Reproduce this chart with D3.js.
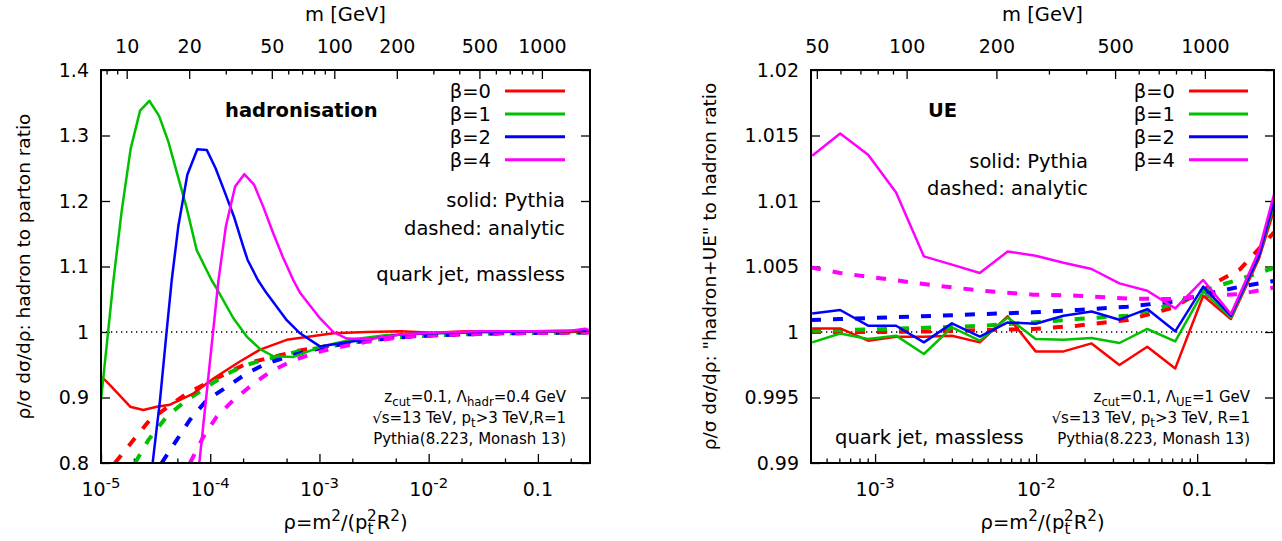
<!DOCTYPE html>
<html>
<head>
<meta charset="utf-8">
<script src="https://cdn.jsdelivr.net/npm/d3@7"></script>
<style>
  body { margin: 0; background: #fff; }
  svg text { font-family: "DejaVu Sans", sans-serif; fill: #000; }
</style>
</head>
<body>
<div id="chart"></div>
<script>
const width = 1282, height = 541;

// ---- hadronisation panel (left): [rho, ratio] ----
const hadPythiaB0 = [[1.01e-5,0.932],[1.21e-5,0.919],[1.85e-5,0.886],[2.44e-5,0.881],[3.24e-5,0.886],[4.28e-5,0.889],
  [7.0e-5,0.906],[1.07e-4,0.929],[1.87e-4,0.955],[2.86e-4,0.973],[5.02e-4,0.988],[8.2e-4,0.993],[1.34e-3,0.998],
  [2.71e-3,1.0],[5.5e-3,1.001],[1.1e-2,0.999],[2.2e-2,1.001],[4.5e-2,1.0],[0.1,1.001],[0.2,1.0],[0.3,1.002]];
const hadPythiaB1 = [[1.0e-5,0.896],[1.30e-5,1.079],[1.55e-5,1.186],[1.87e-5,1.280],[2.28e-5,1.338],[2.77e-5,1.353],
  [3.40e-5,1.330],[4.13e-5,1.291],[6.09e-5,1.189],[7.52e-5,1.125],[1.03e-4,1.079],[1.15e-4,1.066],[1.63e-4,1.021],
  [2.16e-4,0.993],[2.86e-4,0.974],[3.79e-4,0.963],[5.77e-4,0.962],[1.01e-3,0.977],[1.9e-3,0.988],[4.0e-3,0.995],
  [1.0e-2,0.998],[3e-2,1.0],[0.1,1.001],[0.3,1.002]];
const hadPythiaB2 = [[2.97e-5,0.800],[3.47e-5,0.896],[4.0e-5,1.003],[4.44e-5,1.079],[5.10e-5,1.161],[6.17e-5,1.240],
  [7.62e-5,1.279],[9.29e-5,1.278],[1.12e-4,1.250],[1.37e-4,1.212],[1.65e-4,1.176],[2.01e-4,1.130],[2.20e-4,1.110],
  [2.74e-4,1.079],[3.29e-4,1.059],[5.02e-4,1.018],[6.64e-4,0.998],[1.01e-3,0.978],[1.91e-3,0.985],[5.47e-3,0.996],
  [1.1e-2,0.998],[3e-2,1.0],[0.1,1.001],[0.3,1.002]];
const hadPythiaB4 = [[7.95e-5,0.800],[1.19e-4,1.079],[1.39e-4,1.161],[1.69e-4,1.222],[2.05e-4,1.241],[2.52e-4,1.225],
  [3.06e-4,1.191],[3.79e-4,1.150],[4.61e-4,1.115],[5.77e-4,1.079],[6.64e-4,1.060],[1.01e-3,1.021],[1.34e-3,1.0],
  [1.78e-3,0.990],[2.71e-3,0.989],[5.47e-3,0.996],[1.1e-2,0.999],[3e-2,1.001],[0.1,1.001],[0.2,1.002],[0.27,1.005],[0.3,1.002]];
const hadAnalyticB0 = [[1.34e-5,0.800],[1.98e-5,0.835],[2.81e-5,0.866],[4.13e-5,0.886],[6.09e-5,0.906],[9.29e-5,0.922],
  [1.42e-4,0.937],[2.16e-4,0.952],[3.79e-4,0.962],[6.64e-4,0.972],[1.34e-3,0.980],[2.71e-3,0.988],[5.47e-3,0.993],
  [1.1e-2,0.995],[4.5e-2,0.998],[0.17,0.999],[0.3,0.9995]];
const hadAnalyticB1 = [[2.05e-5,0.800],[2.71e-5,0.835],[4.0e-5,0.871],[6.09e-5,0.896],[9.29e-5,0.916],[1.42e-4,0.936],
  [2.16e-4,0.950],[3.79e-4,0.961],[6.64e-4,0.971],[1.34e-3,0.979],[2.71e-3,0.987],[5.47e-3,0.992],[1.1e-2,0.995],
  [4.5e-2,0.998],[0.17,0.999],[0.3,0.9995]];
const hadAnalyticB2 = [[3.59e-5,0.800],[4.93e-5,0.835],[6.53e-5,0.866],[9.29e-5,0.896],[1.42e-4,0.916],[2.16e-4,0.937],
  [3.29e-4,0.952],[5.77e-4,0.965],[1.01e-3,0.975],[1.91e-3,0.984],[5.47e-3,0.992],[1.1e-2,0.995],[4.5e-2,0.998],
  [0.17,0.999],[0.3,0.9995]];
const hadAnalyticB4 = [[6.53e-5,0.800],[8.65e-5,0.840],[1.15e-4,0.871],[1.63e-4,0.896],[2.40e-4,0.919],[3.53e-4,0.939],
  [5.77e-4,0.957],[1.01e-3,0.970],[1.34e-3,0.975],[2.71e-3,0.985],[5.47e-3,0.992],[1.1e-2,0.995],[4.5e-2,0.998],
  [0.17,0.999],[0.3,0.9995]];

// ---- UE panel (right) ----
const ueRho = [4.07e-4,6.07e-4,9.05e-4,1.35e-3,2.01e-3,3.0e-3,4.47e-3,6.66e-3,9.93e-3,1.48e-2,2.21e-2,3.29e-2,
  4.9e-2,7.31e-2,0.109,0.162,0.242,0.3];
const uePythiaB0 = [1.00027,1.00027,0.99934,0.99964,0.99964,0.99972,0.99921,1.0012,0.99852,0.99852,0.99913,0.99748,
  0.99888,0.99722,1.00277,1.00099,1.0056,1.0093];
const uePythiaB1 = [0.99921,0.99989,0.99947,0.99972,0.99832,1.00035,0.99934,1.00111,0.99947,0.99941,0.99954,0.99916,
  1.00023,0.99928,1.0031,1.00111,1.0058,1.0097];
const uePythiaB2 = [1.00142,1.00168,1.00048,1.00048,0.99921,1.00066,0.99964,1.00073,1.00063,1.00124,1.00157,1.00094,
  1.00175,1.00005,1.00346,1.00124,1.0058,1.0100];
const uePythiaB4 = [1.01345,1.01515,1.01353,1.01065,1.00577,1.00514,1.0045,1.00615,1.00582,1.00529,1.00481,1.00371,
  1.00315,1.0018,1.00397,1.00137,1.0062,1.0105];
const ueRhoAnalytic = [4.0e-4,6.07e-4,1.18e-3,2.41e-3,4.69e-3,9.56e-3,1.8e-2,3.7e-2,7.2e-2,0.125,0.185,0.3];
const ueAnalyticB0 = [1.0,1.0,1.0,1.00005,1.00015,1.00023,1.00048,1.00092,1.00188,1.00366,1.0048,1.0076];
const ueAnalyticB1 = [1.0001,1.00015,1.00023,1.00035,1.00048,1.00073,1.00099,1.00124,1.00214,1.0034,1.00404,1.0049];
const ueAnalyticB2 = [1.00092,1.00099,1.00111,1.00124,1.00137,1.0015,1.00168,1.00193,1.00233,1.00302,1.00346,1.0039];
const ueAnalyticB4 = [1.00493,1.0045,1.00404,1.00353,1.00315,1.00285,1.00277,1.00255,1.00252,1.00277,1.0029,1.0034];

const betas = ["β=0", "β=1", "β=2", "β=4"];
const colors = ["#ff0000", "#00c000", "#0000ff", "#ff00ff"];

// tick values
const hadYTicks = [0.8, 0.9, 1.0, 1.1, 1.2, 1.3, 1.4];
const ueYTicks = [0.99, 0.995, 1.0, 1.005, 1.01, 1.015, 1.02];
const hadXMajor = [1e-5, 1e-4, 1e-3, 1e-2, 0.1];
const hadXMinor = [2e-5, 5e-5, 2e-4, 5e-4, 2e-3, 5e-3, 2e-2, 5e-2, 0.2];
const ueXMajor = [1e-3, 1e-2, 0.1];
const ueXMinor = [5e-4, 6e-4, 7e-4, 8e-4, 9e-4, 2e-3, 3e-3, 4e-3, 5e-3, 6e-3, 7e-3, 8e-3, 9e-3,
  2e-2, 3e-2, 4e-2, 5e-2, 6e-2, 7e-2, 8e-2, 9e-2, 0.2];
const hadMMajor = [10, 20, 50, 100, 200, 500, 1000];
const hadMMinor = [8, 9, 30, 40, 60, 70, 80, 90, 300, 400, 600, 700, 800, 900];
const ueMMajor = [50, 100, 200, 500, 1000];
const ueMMinor = [60, 70, 80, 90, 300, 400, 600, 700, 800, 900];

const svg = d3.select("#chart").append("svg")
  .attr("width", width).attr("height", height);

const FS = 19.5;

// text with sub/superscripts: parts = [[text, "sup"|"sub"|"", dx]]
function richText(g, x, y, parts, size, anchor) {
  const t = g.append("text").attr("x", x).attr("y", y)
    .attr("text-anchor", anchor).style("font-size", size + "px");
  let shift = 0;
  parts.forEach(([txt, kind, dx]) => {
    const target = kind === "sup" ? -0.42 * size : kind === "sub" ? 0.25 * size : 0;
    const ts = t.append("tspan").text(txt).attr("dy", target - shift);
    if (kind) ts.style("font-size", (size * 0.78) + "px");
    if (dx) ts.attr("dx", dx);
    shift = target;
  });
  return t;
}

function drawPanel(cfg) {
  const { x0, x1, y0, y1 } = cfg.box;
  const g = svg.append("g");
  const x = d3.scaleLog().domain(cfg.xDomain).range([x0, x1]);
  const y = d3.scaleLinear().domain(cfg.yDomain).range([y1, y0]);
  const m = d3.scaleLog().domain(cfg.mDomain).range([x0, x1]);

  const clipId = "clip" + cfg.id;
  svg.append("clipPath").attr("id", clipId).append("rect")
    .attr("x", x0).attr("y", y0).attr("width", x1 - x0).attr("height", y1 - y0);

  // bottom ticks
  g.append("g").attr("transform", `translate(0,${y1})`)
    .call(d3.axisBottom(x).tickValues(cfg.xMajor).tickSize(-9).tickFormat(""));
  g.append("g").attr("transform", `translate(0,${y1})`)
    .call(d3.axisBottom(x).tickValues(cfg.xMinor).tickSize(-4.5).tickFormat(""));
  // top (mass) ticks
  g.append("g").attr("transform", `translate(0,${y0})`)
    .call(d3.axisTop(m).tickValues(cfg.mMajor).tickSize(-9).tickPadding(17).tickFormat(d3.format("d")));
  g.append("g").attr("transform", `translate(0,${y0})`)
    .call(d3.axisTop(m).tickValues(cfg.mMinor).tickSize(-4.5).tickFormat(""));
  // left / right ticks
  g.append("g").attr("transform", `translate(${x0},0)`)
    .call(d3.axisLeft(y).tickValues(cfg.yTicks).tickSize(-9).tickPadding(12).tickFormat(cfg.yFormat));
  g.append("g").attr("transform", `translate(${x1},0)`)
    .call(d3.axisRight(y).tickValues(cfg.yTicks).tickSize(-9).tickFormat(""));

  g.selectAll(".domain").remove();
  g.selectAll(".tick line").attr("stroke", "#000").attr("stroke-width", 1.3);
  g.selectAll(".tick text").style("font-size", "19px").style("font-family", "DejaVu Sans");

  // bottom tick labels
  cfg.xLabels.forEach(([v, parts]) => richText(g, x(v), 496, parts, 19, "middle"));

  // reference line at 1
  g.append("line").attr("x1", x0).attr("x2", x1).attr("y1", y(1)).attr("y2", y(1))
    .attr("stroke", "#000").attr("stroke-width", 1.3).attr("stroke-dasharray", "1.3,3.7");

  const line = d3.line().x(d => x(d[0])).y(d => y(d[1]));
  const curves = g.append("g").attr("clip-path", `url(#${clipId})`);
  cfg.analytic.forEach((s, i) => curves.append("path").attr("d", line(s))
    .attr("fill", "none").attr("stroke", colors[i]).attr("stroke-width", 4)
    .attr("stroke-dasharray", "10,12"));
  cfg.pythia.forEach((s, i) => curves.append("path").attr("d", line(s))
    .attr("fill", "none").attr("stroke", colors[i]).attr("stroke-width", 2.5)
    .attr("stroke-linejoin", "round"));

  // border
  g.append("rect").attr("x", x0).attr("y", y0).attr("width", x1 - x0).attr("height", y1 - y0)
    .attr("fill", "none").attr("stroke", "#000").attr("stroke-width", 2);

  // legend
  const lg = cfg.legend;
  betas.forEach((b, i) => {
    const ly = 91 + i * 22.9;
    g.append("text").attr("x", lg.textX).attr("y", ly).attr("dy", "0.35em")
      .attr("text-anchor", "end").style("font-size", FS + "px").text(b);
    g.append("line").attr("x1", lg.lineX1).attr("x2", lg.lineX2).attr("y1", ly).attr("y2", ly)
      .attr("stroke", colors[i]).attr("stroke-width", 3);
  });

  // annotations
  cfg.notes.forEach(n => g.append("text").attr("x", n.x).attr("y", n.y).attr("dy", "0.35em")
    .attr("text-anchor", n.anchor).style("font-size", FS + "px")
    .style("font-weight", n.bold ? "bold" : "normal").text(n.text));
  cfg.small.forEach((parts, i) => richText(g, cfg.smallX, 402 + i * 21, parts, 15, "end"));

  // axis titles
  g.append("text").attr("x", (x0 + x1) / 2).attr("y", 21).attr("text-anchor", "middle")
    .style("font-size", FS + "px").text("m [GeV]");
  richText(g, (x0 + x1) / 2, 529, [["ρ=m", ""], ["2", "sup"], ["/(p", ""], ["t", "sub"], ["2", "sup", -6.5],
    ["R", ""], ["2", "sup"], [")", ""]], FS, "middle");
  g.append("text").attr("transform", `translate(${cfg.yTitleX},${(y0 + y1) / 2}) rotate(-90)`)
    .attr("text-anchor", "middle").style("font-size", "18.5px").text(cfg.yTitle);
}

const toPairs = (xs, ys) => xs.map((v, i) => [v, ys[i]]);

drawPanel({
  id: "had",
  box: { x0: 101, x1: 590, y0: 70, y1: 463 },
  xDomain: [1e-5, 0.3], yDomain: [0.8, 1.4], mDomain: [7.52, 1705],
  xMajor: hadXMajor, xMinor: hadXMinor, mMajor: hadMMajor, mMinor: hadMMinor,
  yTicks: hadYTicks, yFormat: d => d3.format("")(+d.toFixed(2)),
  xLabels: [[1e-5, [["10", ""], ["-5", "sup"]]], [1e-4, [["10", ""], ["-4", "sup"]]],
    [1e-3, [["10", ""], ["-3", "sup"]]], [1e-2, [["10", ""], ["-2", "sup"]]], [0.1, [["0.1", ""]]]],
  pythia: [hadPythiaB0, hadPythiaB1, hadPythiaB2, hadPythiaB4],
  analytic: [hadAnalyticB0, hadAnalyticB1, hadAnalyticB2, hadAnalyticB4],
  legend: { textX: 491, lineX1: 505, lineX2: 565 },
  notes: [
    { text: "hadronisation", x: 225, y: 110, anchor: "start", bold: true },
    { text: "solid: Pythia", x: 565, y: 200, anchor: "end" },
    { text: "dashed: analytic", x: 565, y: 228, anchor: "end" },
    { text: "quark jet, massless", x: 565, y: 274, anchor: "end" }
  ],
  smallX: 566,
  small: [
    [["z", ""], ["cut", "sub"], ["=0.1, Λ", ""], ["hadr", "sub"], ["=0.4 GeV", ""]],
    [["√s=13 TeV, p", ""], ["t", "sub"], [">3 TeV,R=1", ""]],
    [["Pythia(8.223, Monash 13)", ""]]
  ],
  yTitle: "ρ/σ dσ/dρ: hadron to parton ratio", yTitleX: 30
});

drawPanel({
  id: "ue",
  box: { x0: 811, x1: 1274, y0: 70, y1: 463 },
  xDomain: [4.0e-4, 0.3], yDomain: [0.99, 1.02], mDomain: [47.8, 1705],
  xMajor: ueXMajor, xMinor: ueXMinor, mMajor: ueMMajor, mMinor: ueMMinor,
  yTicks: ueYTicks, yFormat: d => d3.format("")(+d.toFixed(3)),
  xLabels: [[1e-3, [["10", ""], ["-3", "sup"]]], [1e-2, [["10", ""], ["-2", "sup"]]], [0.1, [["0.1", ""]]]],
  pythia: [uePythiaB0, uePythiaB1, uePythiaB2, uePythiaB4].map(ys => toPairs(ueRho, ys)),
  analytic: [ueAnalyticB0, ueAnalyticB1, ueAnalyticB2, ueAnalyticB4].map(ys => toPairs(ueRhoAnalytic, ys)),
  legend: { textX: 1175, lineX1: 1189, lineX2: 1248 },
  notes: [
    { text: "UE", x: 928, y: 110, anchor: "start", bold: true },
    { text: "solid: Pythia", x: 1088, y: 161, anchor: "end" },
    { text: "dashed: analytic", x: 1088, y: 188, anchor: "end" },
    { text: "quark jet, massless", x: 835, y: 437, anchor: "start" }
  ],
  smallX: 1250,
  small: [
    [["z", ""], ["cut", "sub"], ["=0.1, Λ", ""], ["UE", "sub"], ["=1 GeV", ""]],
    [["√s=13 TeV, p", ""], ["t", "sub"], [">3 TeV, R=1", ""]],
    [["Pythia(8.223, Monash 13)", ""]]
  ],
  yTitle: "ρ/σ dσ/dρ: \"hadron+UE\" to hadron ratio", yTitleX: 716
});
</script>
</body>
</html>
